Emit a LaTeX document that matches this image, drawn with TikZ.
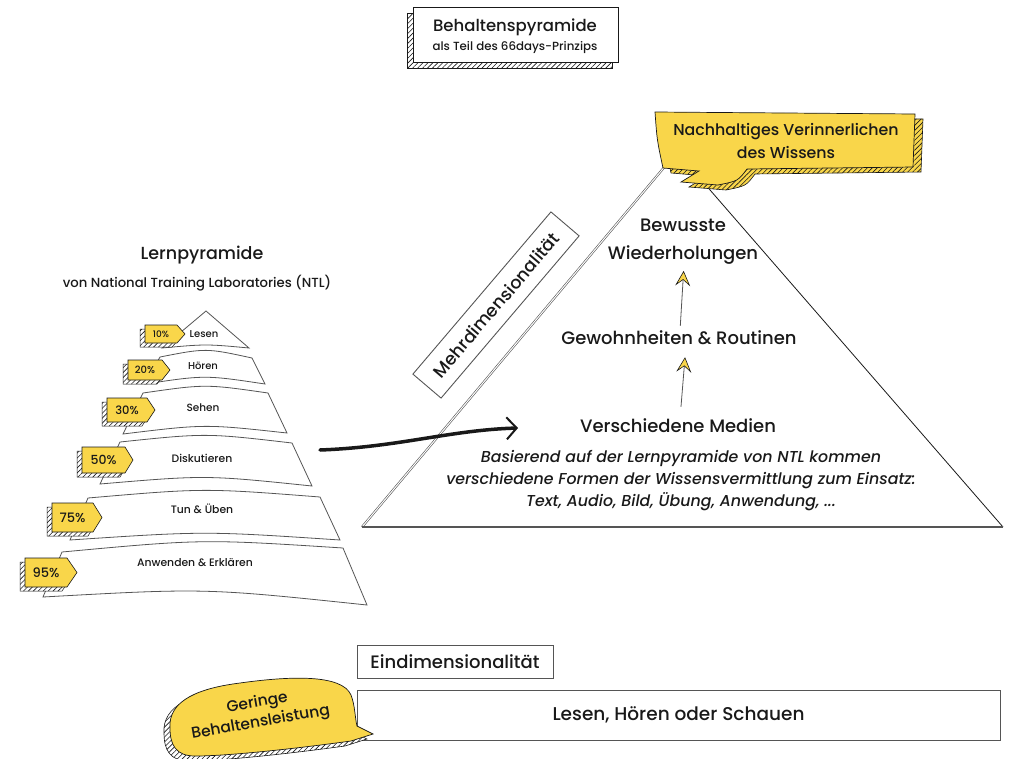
\documentclass[tikz,border=0pt]{standalone}
\usepackage{fontspec}
\setmainfont{Poppins}[UprightFont={* Medium}, ItalicFont={* Medium Italic}]
\usetikzlibrary{arrows.meta,patterns.meta,calc}
\definecolor{ylw}{RGB}{249,214,74}
\definecolor{ink}{RGB}{25,25,25}
\definecolor{edge}{RGB}{85,85,85}
\newcommand{\fs}[2]{\fontsize{#1}{#2}\selectfont}
\newcommand{\pctag}[8]{%
  \path[draw=ink, line width=0.5, preaction={fill=white}, hatch]
    ({#2-5},{#3+4}) -- ({#4-5},{#3+4}) -- ({#6-5},{(#3+#5)/2+4}) -- ({#4-5},{#5+4}) -- ({#2-5},{#5+4}) -- cycle;
  \draw[ink, line width=0.6, fill=ylw] (#2,#3) -- (#4,#3) -- (#6,{(#3+#5)/2}) -- (#4,#5) -- (#2,#5) -- cycle;
  \node[txt, font=\fs{#7}{#7}] (#1) at ({(#2+#4)/2},{(#3+#5)/2}) {#8};
}
\newcommand{\tierband}[8]{%
  \draw[tierline] (#1,#2) .. controls ({(#1+#3)/2},{min(#2,#4)-9}) .. (#3,#4) -- (#5,#6)
    .. controls ({(#7+#5)/2},{min(#6,#8)-9}) .. (#7,#8) -- cycle;
}
\begin{document}
\begin{tikzpicture}[x=1pt,y=-1pt,
  txt/.style={text=ink, inner sep=0pt},
  hatch/.style={pattern={Lines[angle=45,distance=3.5pt,line width=0.6pt]}, pattern color=ink},
  tierline/.style={draw=edge, line width=0.8, fill=white},
  boxline/.style={draw=edge, line width=0.9},
  uparr/.style={draw=edge, line width=0.8, -{Stealth[length=15pt,width=15pt,inset=6pt,color=ink,fill=ylw,line width=0.6pt]}},
  bigarr/.style={draw=ink, line width=3.5, line cap=round, -{Straight Barb[length=10pt,width=22pt,line width=2pt]}}
]
\useasboundingbox (0,0) rectangle (1012,758);

% ---------- title box ----------
\path[draw=ink, line width=0.6, preaction={fill=white}, hatch] (407,13) rectangle (612,68);
\node[draw=ink, fill=white, line width=0.9, minimum width=205, minimum height=55, inner sep=0pt] (titlebox) at (515.5,34.5) {};
\node[txt, font=\fs{16.5}{20}] (title) at (515,27) {Behaltenspyramide};
\node[txt, font=\fs{11.8}{13}] (subtitle) at (515,48) {als Teil des 66days-Prinzips};

% ---------- big pyramid ----------
\coordinate (pl) at (362,527);
\coordinate (pr) at (1003,527);
\coordinate (pt) at (677,152);
\draw[draw=edge, line width=0.6, double=white, double distance=1pt] (pl) -- (pt);
\draw[ink, line width=0.8] (pt) -- (pr);
\draw[edge, line width=1.1] (pl) -- (pr);

% ---------- callout top ----------
\def\callpath{(655,112) -- (915,114) -- (913,167) -- (747,169) .. controls (738,181) .. (718,185) -- (681,182) -- (699,171) -- (663,168) .. controls (657,140) .. (655,112) -- cycle}
\begin{scope}[shift={(8,5)}]
  \path[draw=ink, line width=0.6, preaction={fill=ylw}, hatch] \callpath;
\end{scope}
\draw[ink, line width=0.7, fill=ylw] \callpath;
\node[txt, font=\fs{15.8}{23}, align=center] (nach) at (786,141) {Nachhaltiges Verinnerlichen\\des Wissens};

% ---------- Mehrdimensionalitaet ----------
\node[boxline, rotate=49.6, minimum width=213, minimum height=37, inner sep=0pt, txt, font=\fs{17.5}{20}] (mehr) at (496,305) {Mehrdimensionalität};

% ---------- texts inside pyramid ----------
\node[txt, font=\fs{18}{28}, align=center] (bew) at (683,242) {Bewusste\\Wiederholungen};
\node[txt, font=\fs{18}{22}] (gew) at (679,338) {Gewohnheiten \& Routinen};
\node[txt, font=\fs{18}{22}] (ver) at (678,426) {Verschiedene Medien};
\node[txt, font=\itshape\fs{15.8}{22}, align=center] (basis) at (681,481)
  {Basierend auf der Lernpyramide von NTL kommen\\verschiedene Formen der Wissensvermittlung zum Einsatz:\\Text, Audio, Bild, Übung, Anwendung, ...};
\draw[uparr, shorten <=12pt, shorten >=12pt] ([xshift=2pt]ver.north) -- ([xshift=7pt]gew.south);
\draw[uparr, shorten <=5pt, shorten >=6pt] ([xshift=1pt]gew.north) -- ([xshift=1pt]bew.south);

% ---------- left pyramid ----------
\node[txt, font=\fs{17.5}{20}] (lp) at (202,255) {Lernpyramide};
\node[txt, font=\fs{13.2}{14}] (lps) at (197,283) {von National Training Laboratories (NTL)};

\draw[tierline] (206,311) -- (249,348) .. controls (206,344) .. (162,348) -- cycle;
\tierband{160}{357}{252}{358}{265}{384}{145}{384}
\tierband{143}{393}{268}{393}{287}{433}{123}{434}
\tierband{120}{442}{292}{443}{312}{486}{100}{484}
\tierband{88}{498}{320}{497}{340}{540}{70}{540}
\tierband{62}{552}{343}{548}{367}{605}{43}{597}

\node[txt, font=\fs{10}{10}] (t1) at (204,334) {Lesen};
\node[txt, font=\fs{10}{10}] (t2) at (203,366) {Hören};
\node[txt, font=\fs{10.5}{11}] (t3) at (203,408) {Sehen};
\node[txt, font=\fs{10.8}{11}] (t4) at (202,458) {Diskutieren};
\node[txt, font=\fs{10.8}{11}] (t5) at (202,509) {Tun \& Üben};
\node[txt, font=\fs{10.8}{11}] (t6) at (195,563) {Anwenden \& Erklären};

\pctag{p1}{145}{325}{177}{343}{185}{9}{10\%}
\pctag{p2}{128}{360}{162}{380}{170}{10}{20\%}
\pctag{p3}{107}{398}{147}{422}{155}{11.5}{30\%}
\pctag{p4}{82}{447}{125}{473}{133}{12.5}{50\%}
\pctag{p5}{52}{503}{93}{532}{102}{13}{75\%}
\pctag{p6}{25}{558}{67}{587}{77}{13}{95\%}

% ---------- big arrow ----------
\coordinate (aS) at (320,450);
\coordinate (aE) at (518,428);
\draw[bigarr] (aS) .. controls (400,447) and (450,430) .. (aE);

% ---------- bottom ----------
\node[boxline, minimum width=196, minimum height=33, inner sep=0pt, txt, font=\fs{18}{20}] (ein) at (455,661.5) {Eindimensionalität};
\node[boxline, minimum width=643, minimum height=50, inner sep=0pt, txt, font=\fs{18.5}{20}] (lhs) at (678.5,715) {Lesen, Hören oder Schauen};

\def\gerpath{(170,728) .. controls (168,700) and (200,688) .. (240,683) .. controls (290,676) and (342,674) .. (351,695) .. controls (355,705) and (355,718) .. (357,726) -- (373,734) -- (351,741) .. controls (300,748) and (230,756) .. (195,756) .. controls (176,756) and (170,745) .. (170,728) -- cycle}
\begin{scope}[shift={(-6,5)}]
  \path[draw=ink, line width=0.6, preaction={fill=white}, hatch] \gerpath;
\end{scope}
\draw[ink, line width=0.7, fill=ylw] \gerpath;
\node[txt, font=\fs{15.5}{20}, align=center, rotate=10] (ger) at (259,713) {Geringe\\Behaltensleistung};

\end{tikzpicture}
\end{document}
